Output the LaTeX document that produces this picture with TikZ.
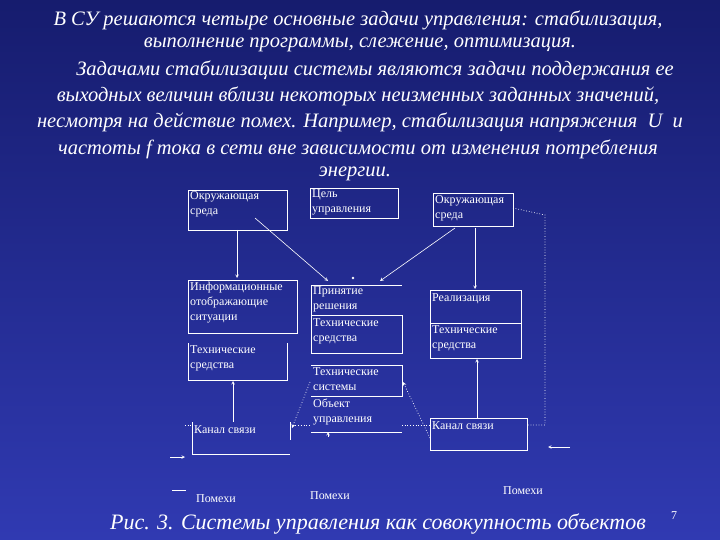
\documentclass[tikz,border=0pt]{standalone}
\usepackage{fontspec}
\setmainfont{Liberation Serif}[ItalicFont={Liberation Serif Italic}]
\newfontfamily\ttl{Liberation Serif Italic}
\begin{document}
\begin{tikzpicture}[x=1pt,y=-1pt,
 bx/.style={draw=white,line width=0.8pt},
 ln/.style={white,line width=0.6pt},
 dl/.style={white,dotted,line width=0.7pt},
 lb/.style={text=white,font=\fontsize{12}{15}\selectfont,align=left,anchor=north west,inner sep=1pt},
 tt/.style={text=white,font=\ttl\fontsize{20.5}{22}\selectfont,align=center},
 ar/.style={ln,-stealth}]
\shade[top color={rgb,255:red,22;green,28;blue,110},bottom color={rgb,255:red,48;green,58;blue,178}] (0,0) rectangle (720,540);
\useasboundingbox (0,0) rectangle (720,540);
\node[tt] (t1) at (358,20) {В СУ решаются четыре основные задачи управления: стабилизация,};
\node[tt] (t2) at (360,45) {выполнение программы, слежение, оптимизация.};
\node[tt] (t3) at (375,70) {Задачами стабилизации системы являются задачи поддержания ее};
\node[tt] (t4) at (358,96) {выходных величин вблизи некоторых неизменных заданных значений,};
\node[tt] (t5) at (360,122) {несмотря на действие помех. Например, стабилизация напряжения \ U \ и};
\node[tt] (t6) at (358,149) {частоты f тока в сети вне зависимости от изменения потребления};
\node[tt] (t7) at (355,174) {энергии.};
% boxes
\draw[bx] (188,190) rectangle (287,230); \node[lb] (e1) at (189,190) {Окружающая\\среда};
\draw[bx] (310,188) rectangle (398,218); \node[lb] (g) at (311,188) {Цель\\управления};
\draw[bx] (433,193) rectangle (513,226); \node[lb] (e2) at (434,194) {Окружающая\\среда};
\draw[bx] (188,280) rectangle (297,333); \node[lb] (inf) at (189,281) {Информационные\\отображающие\\ситуации};
\draw[bx] (188,343) -- (188,380) -- (287,380) -- (287,343); \node[lb] (tl) at (189,344) {Технические\\средства};
\draw[bx] (311,285) -- (402,285); \draw[bx] (311,285) -- (311,353);
\node[lb] (dec) at (312,285) {Принятие\\решения};
\draw[bx] (311,315) rectangle (402,353); \node[lb] (tc) at (312,317) {Технические\\средства};
\draw[bx] (430,290) rectangle (521,323); \node[lb] (re) at (431,292) {Реализация};
\draw[bx] (430,323) rectangle (521,358); \node[lb] (tr) at (431,324) {Технические\\средства};
\draw[bx] (311,365) -- (402,365) -- (402,396) -- (311,396); \node[lb] (ts) at (312,366) {Технические\\системы};
\node[lb] (ob) at (312,398) {Объект\\управления};
\draw[bx] (311,432) -- (402,432);
\draw[bx] (192,422) -- (192,454) -- (290,454); \draw[white,line width=0.4pt] (290,422)--(290,440);
\node[lb] (kl) at (193,424) {Канал связи};
\draw[bx] (430,418) rectangle (527,450); \node[lb] (kr) at (431,420) {Канал связи};
% connectors
\draw[ar] (237,230) -- (237,278);
\draw[ar] (255,218) -- (328,281);
\draw[ar] (455,228) -- (380,281);
\fill[white] (353,278) circle (1.3);
\draw[ar] (475,228) -- (475,289);
\draw[ar] (233,422) -- (233,381);
\draw[ar] (477,418) -- (477,359);
\draw[ar] (328,437) -- (328,432);
\draw[dl,-stealth] (310,382) -- (292,428);
\draw[dl,-stealth] (430,438) -- (403,382);
\draw[dl] (513,208) -- (545,215) -- (545,425) -- (527,425);
\draw[dl] (185,425) -- (192,425) (290,425) -- (311,425) (402,425) -- (430,425);
\draw[ar] (170,457) -- (185,457);
\draw[ar] (570,447) -- (548,447);
\draw[ln] (172,490) -- (186,490);
\node[lb,anchor=center] (p1) at (216,499) {Помехи};
\node[lb,anchor=center] (p2) at (330,496) {Помехи};
\node[lb,anchor=center] (p3) at (523,491) {Помехи};
\node[tt,font=\ttl\fontsize{22}{22}\selectfont] (cap) at (378,524) {Рис. 3. Системы управления как совокупность объектов};
\node[text=white,font=\fontsize{12}{12}\selectfont] (pn) at (674,516) {7};
\end{tikzpicture}
\end{document}
